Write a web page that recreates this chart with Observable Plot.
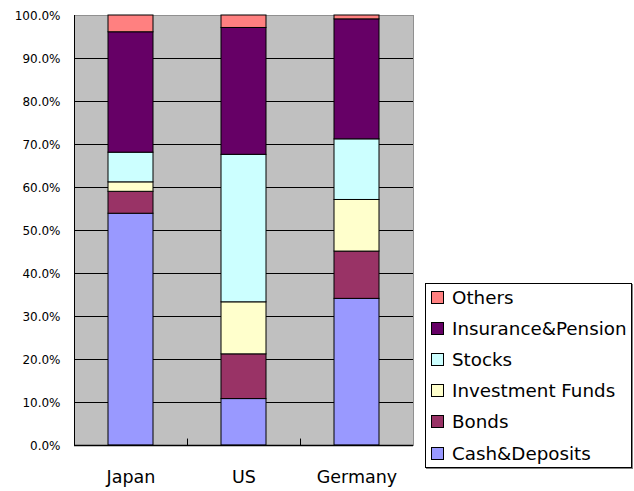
<!DOCTYPE html>
<html>
<head>
<meta charset="utf-8">
<script src="https://cdn.jsdelivr.net/npm/d3@7"></script>
<script src="https://cdn.jsdelivr.net/npm/@observablehq/plot@0.6"></script>
<style>
  html, body { margin: 0; padding: 0; background: #fff; }
  #wrap { position: relative; width: 634px; height: 491px; font-family: "DejaVu Sans", sans-serif; }
  #legend { position: absolute; left: 425px; top: 283px; width: 205px; height: 183px; border: 1px solid #000; background: #fff; box-shadow: 1px 1px 0 #808080; }
  .item { position: absolute; left: 0; height: 20px; display: flex; align-items: center; font-size: 18.3px; color: #000; white-space: nowrap; }
  .sw { width: 11px; height: 11px; border: 1px solid #000; margin-left: 5px; margin-right: 8px; box-sizing: content-box; }
</style>
</head>
<body>
<div id="wrap"></div>
<script>
const countries = ["Japan", "US", "Germany"];
const seriesNames = ["Cash&Deposits", "Bonds", "Investment Funds", "Stocks", "Insurance&Pension", "Others"];
const seriesColors = ["#9999FF", "#993366", "#FFFFCC", "#CCFFFF", "#660066", "#FF8080"];
const cashDeposits = [53.9, 10.8, 34.1];
const bonds = [5.1, 10.4, 11.0];
const investmentFunds = [2.2, 12.1, 12.0];
const stocks = [6.9, 34.3, 14.1];
const insurancePension = [28.0, 29.5, 27.9];
const others = [3.9, 2.9, 0.9];
const yTicks = [0, 10, 20, 30, 40, 50, 60, 70, 80, 90, 100];
const gridTicks = [10, 20, 30, 40, 50, 60, 70, 80, 90];

const seriesValues = [cashDeposits, bonds, investmentFunds, stocks, insurancePension, others];
const data = [];
countries.forEach((c, i) => {
  seriesNames.forEach((s, j) => data.push({country: c, series: s, value: seriesValues[j][i]}));
});

const chart = Plot.plot({
  width: 634,
  height: 491,
  marginLeft: 74,
  marginRight: 221,
  marginTop: 15,
  marginBottom: 46,
  style: {fontFamily: "DejaVu Sans, sans-serif", background: "transparent"},
  x: {domain: countries, paddingInner: 0.6, paddingOuter: 0.3, label: null},
  y: {domain: [0, 100], label: null},
  color: {domain: seriesNames, range: seriesColors},
  marks: [
    Plot.frame({fill: "#C0C0C0", stroke: "#909090"}),
    Plot.ruleY(gridTicks, {stroke: "#000", strokeWidth: 1}),
    Plot.ruleX(countries.slice(0, 2), {x: d => d, dx: 56.5, y1: 0, y2: 1.5, stroke: "#000"}),
    Plot.barY(data, {x: "country", y: "value", fill: "series", stroke: "#000", strokeWidth: 1}),
    Plot.ruleY([0], {stroke: "#000", strokeWidth: 1.5}),
    Plot.frame({anchor: "left", stroke: "#000"}),
    Plot.axisY({ticks: yTicks, tickSize: 0, tickPadding: 14, tickFormat: d => d.toFixed(1) + "%", fontSize: 12, dy: 1, label: null}),
    Plot.axisX({tickSize: 0, tickPadding: 25, fontSize: 17.5, label: null})
  ]
});
chart.style.color = "#000";
const wrap = document.getElementById("wrap");
wrap.appendChild(chart);

const legend = document.createElement("div");
legend.id = "legend";
const order = seriesNames.map((s, i) => i).reverse();
order.forEach((idx, k) => {
  const it = document.createElement("div");
  it.className = "item";
  it.style.top = (3 + k * 31.2) + "px";
  const sw = document.createElement("div");
  sw.className = "sw";
  sw.style.background = seriesColors[idx];
  const t = document.createElement("span");
  t.textContent = seriesNames[idx];
  it.appendChild(sw);
  it.appendChild(t);
  legend.appendChild(it);
});
wrap.appendChild(legend);
</script>
</body>
</html>
